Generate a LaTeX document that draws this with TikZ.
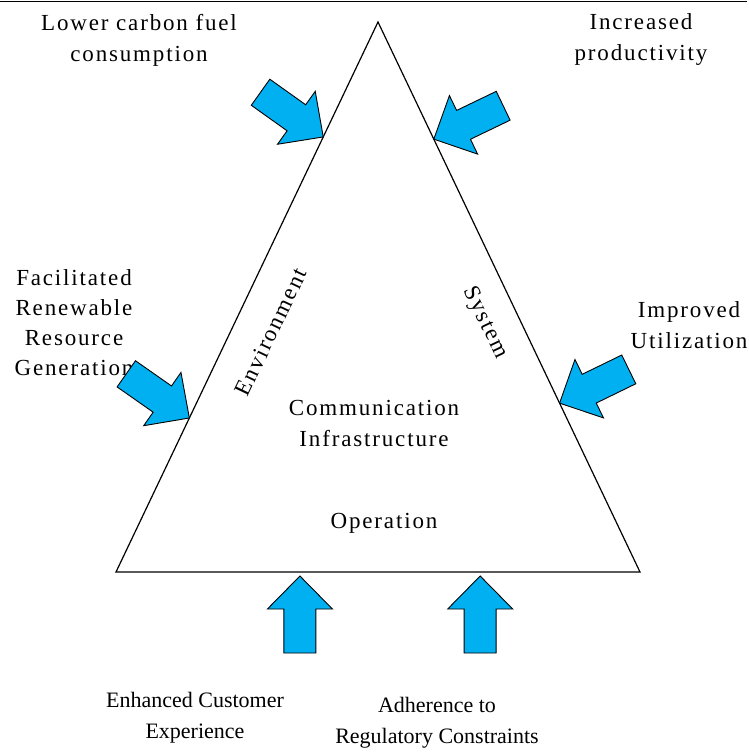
\documentclass[tikz,border=0pt]{standalone}
\usepackage{fontspec}
\setmainfont{Liberation Serif}
\newfontfamily\spcfont[LetterSpace=8]{Liberation Serif}
\usetikzlibrary{calc}
\definecolor{arrowblue}{HTML}{00B0F0}
\tikzset{
  lbl/.style={align=center, font=\spcfont\fontsize{23}{31}\selectfont, inner sep=0pt, anchor=base},
  lblb/.style={align=center, font=\fontsize{22}{31}\selectfont, inner sep=0pt, anchor=base},
  edgeline/.style={line width=1.2pt, line join=miter},
  pics/blockarrow/.style={code={
    \draw[line width=0.9pt, fill=arrowblue, line join=miter]
      (0,0) -- (-33,32.5) -- (-33,16) -- (-77,16) -- (-77,-16) -- (-33,-16) -- (-33,-32.5) -- cycle;
  }}
}
\begin{document}
\begin{tikzpicture}[x=1pt,y=-1pt]
\useasboundingbox (0,0) rectangle (749,753);
% top rule
\coordinate (r1) at (0,1.5);
\coordinate (r2) at (747,1.5);
\draw[line width=1.5pt] (r1) -- (r2);
% triangle
\coordinate (A) at (378,22);
\coordinate (B) at (116,572);
\coordinate (C) at (640,572);
\draw[edgeline] (A) -- (B) -- (C) -- cycle;
% labels (anchor = baseline of last line)
\node[lbl] (lcf) at (139,61) {Lower carbon fuel\\consumption};
\node[lbl] (ip) at (641,60) {Increased\\productivity};
\node[lbl, font=\spcfont\fontsize{23}{30}\selectfont] (frg) at (74,375) {Facilitated\\Renewable\\Resource\\Generation};
\node[lbl] (iu) at (689,348) {Improved\\Utilization};
\node[lblb] (ece) at (195,738) {Enhanced Customer\\Experience};
\node[lblb] (arc) at (437,743) {Adherence to\\Regulatory Constraints};
\node[lbl] (ci) at (374,446) {Communication\\Infrastructure};
\node[lbl] (op) at (384,528) {Operation};
\node[lbl, rotate=64.5, anchor=center] (env) at (271,332) {Environment};
\node[lbl, rotate=-64.5, anchor=center] (sys) at (485,323) {System};
% arrow tips
\coordinate (tTL) at ($(A)!0.209!(B)$);
\coordinate (tTR) at ($(A)!0.213!(C)$);
\coordinate (tL) at ($(A)!0.72!(B)$);
\coordinate (tR) at ($(A)!0.693!(C)$);
\coordinate (tBL) at ($(B)!0.351!(C)+(0,4)$);
\coordinate (tBR) at ($(B)!0.695!(C)+(0,4)$);
\pic[rotate=-35.5] at (tTL) {blockarrow};
\pic[rotate=-154.3] at (tTR) {blockarrow};
\pic[rotate=-35] at (tL) {blockarrow};
\pic[rotate=-154] at (tR) {blockarrow};
\pic[rotate=90] at (tBL) {blockarrow};
\pic[rotate=90] at (tBR) {blockarrow};
\end{tikzpicture}
\end{document}
